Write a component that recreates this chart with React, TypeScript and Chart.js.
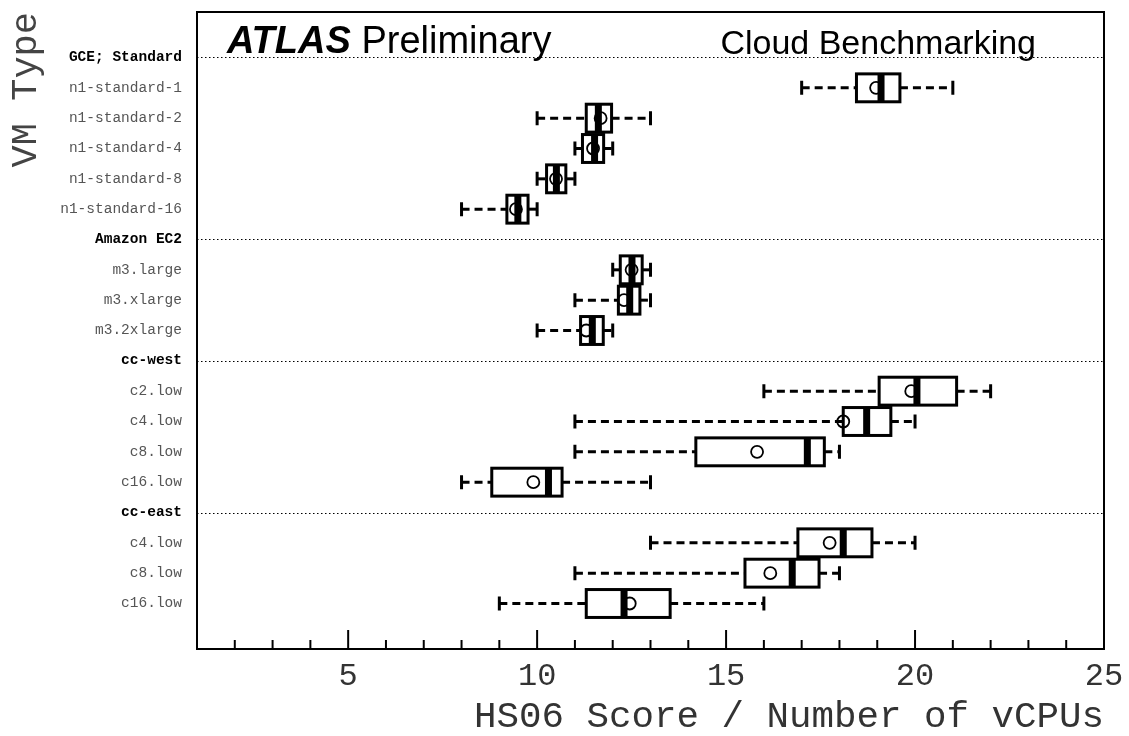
import React, { useEffect, useRef } from 'react';
import { Chart, registerables } from 'chart.js';

Chart.register(...registerables);

// ---------------- data ----------------
const rowLabels = [
  'GCE; Standard', 'n1-standard-1', 'n1-standard-2', 'n1-standard-4', 'n1-standard-8', 'n1-standard-16',
  'Amazon EC2', 'm3.large', 'm3.xlarge', 'm3.2xlarge',
  'cc-west', 'c2.low', 'c4.low', 'c8.low', 'c16.low',
  'cc-east', 'c4.low', 'c8.low', 'c16.low',
];
const isHeader = [
  true, false, false, false, false, false,
  true, false, false, false,
  true, false, false, false, false,
  true, false, false, false,
];
const whiskerLow: (number | null)[] = [null, 17, 10, 11, 10, 8, null, 12, 11, 10, null, 16, 11, 11, 8, null, 13, 11, 9];
const q1: (number | null)[] = [null, 18.45, 11.3, 11.2, 10.25, 9.2, null, 12.2, 12.15, 11.15, null, 19.05, 18.1, 14.2, 8.8, null, 16.9, 15.5, 11.3];
const median: (number | null)[] = [null, 19.1, 11.62, 11.52, 10.51, 9.49, null, 12.51, 12.45, 11.46, null, 20.05, 18.72, 17.15, 10.3, null, 18.1, 16.75, 12.3];
const q3: (number | null)[] = [null, 19.6, 11.97, 11.76, 10.76, 9.76, null, 12.78, 12.72, 11.75, null, 21.1, 19.36, 17.6, 10.66, null, 18.86, 17.46, 13.52];
const whiskerHigh: (number | null)[] = [null, 21, 13, 12, 11, 10, null, 13, 13, 12, null, 22, 20, 18, 13, null, 20, 18, 16];
const mean: (number | null)[] = [null, 18.97, 11.68, 11.48, 10.5, 9.44, null, 12.5, 12.3, 11.3, null, 19.9, 18.1, 15.82, 9.9, null, 17.74, 16.17, 12.45];

const xMin = 1;
const xMax = 25;
const xLabelStep = 5;
const xTitle = 'HS06 Score / Number of vCPUs';
const yTitle = 'VM Type';
const atlasLabel = 'ATLAS';
const prelimLabel = 'Preliminary';
const rightLabel = 'Cloud Benchmarking';

// row i is placed at y = -i (top to bottom)
const rowY = (i: number) => -i;

// ---------------- styles ----------------
const MONO = '"Liberation Mono", "DejaVu Sans Mono", monospace';
const SANS = '"Liberation Sans", Arial, Helvetica, sans-serif';

const boxPlotPlugin = {
  id: 'boxPlotPlugin',
  beforeDatasetsDraw(chart: any) {
    const { ctx, chartArea, scales } = chart;
    const x = scales.x;
    const y = scales.y;
    const rowPx = Math.abs(y.getPixelForValue(1) - y.getPixelForValue(0));
    const bh = rowPx * 0.92;
    const half = bh / 2;
    const capH = rowPx * 0.46;
    ctx.save();
    // dotted separators at group header rows
    ctx.strokeStyle = '#000';
    ctx.lineWidth = 1;
    ctx.setLineDash([1.5, 2.5]);
    rowLabels.forEach((_, i) => {
      if (!isHeader[i]) return;
      const py = Math.round(y.getPixelForValue(rowY(i))) + 0.5;
      ctx.beginPath();
      ctx.moveTo(chartArea.left, py);
      ctx.lineTo(chartArea.right, py);
      ctx.stroke();
    });
    rowLabels.forEach((_, i) => {
      if (q1[i] == null) return;
      const py = y.getPixelForValue(rowY(i));
      const xl = x.getPixelForValue(whiskerLow[i]);
      const xa = x.getPixelForValue(q1[i]);
      const xb = x.getPixelForValue(q3[i]);
      const xh = x.getPixelForValue(whiskerHigh[i]);
      // whiskers
      ctx.strokeStyle = '#000';
      ctx.lineWidth = 3;
      ctx.setLineDash([8, 5]);
      ctx.beginPath();
      ctx.moveTo(xl, py);
      ctx.lineTo(xa, py);
      ctx.stroke();
      ctx.beginPath();
      ctx.moveTo(xb, py);
      ctx.lineTo(xh, py);
      ctx.stroke();
      ctx.setLineDash([]);
      ctx.beginPath();
      ctx.moveTo(xl, py - capH / 2);
      ctx.lineTo(xl, py + capH / 2);
      ctx.moveTo(xh, py - capH / 2);
      ctx.lineTo(xh, py + capH / 2);
      ctx.stroke();
      // box
      ctx.fillStyle = '#fff';
      ctx.fillRect(xa, py - half, xb - xa, bh);
      ctx.lineWidth = 3;
      ctx.strokeRect(xa, py - half, xb - xa, bh);
    });
    ctx.restore();
  },
  afterDatasetsDraw(chart: any) {
    const { ctx, scales } = chart;
    const x = scales.x;
    const y = scales.y;
    const rowPx = Math.abs(y.getPixelForValue(1) - y.getPixelForValue(0));
    const bh = rowPx * 0.92;
    const half = bh / 2;
    ctx.save();
    ctx.fillStyle = '#000';
    rowLabels.forEach((_, i) => {
      if (median[i] == null) return;
      const py = y.getPixelForValue(rowY(i));
      const xm = x.getPixelForValue(median[i]);
      ctx.fillRect(xm - 3.5, py - half, 7, bh);
    });
    ctx.restore();
  },
  afterDraw(chart: any) {
    const { ctx, chartArea, scales } = chart;
    const x = scales.x;
    const { left, right, top, bottom } = chartArea;
    ctx.save();
    // frame
    ctx.strokeStyle = '#000';
    ctx.lineWidth = 2;
    ctx.setLineDash([]);
    ctx.strokeRect(left, top, right - left, bottom - top);
    // inward x ticks
    x.ticks.forEach((t: any) => {
      const px = x.getPixelForValue(t.value);
      if (px <= left + 1 || px >= right - 1) return;
      const len = t.value % xLabelStep === 0 ? 19 : 9;
      ctx.beginPath();
      ctx.moveTo(px, bottom);
      ctx.lineTo(px, bottom - len);
      ctx.stroke();
    });
    // header texts
    ctx.fillStyle = '#000';
    ctx.textBaseline = 'alphabetic';
    ctx.textAlign = 'left';
    ctx.font = `italic bold 38px ${SANS}`;
    const ax = left + 30;
    const base = top + 41;
    ctx.fillText(atlasLabel, ax, base);
    const aw = ctx.measureText(atlasLabel + ' ').width;
    ctx.font = `38px ${SANS}`;
    ctx.fillText(prelimLabel, ax + aw, base);
    ctx.textAlign = 'right';
    ctx.font = `34px ${SANS}`;
    ctx.fillText(rightLabel, right - 68, base + 1);
    ctx.restore();
  },
};

export default function App() {
  const canvasRef = useRef<HTMLCanvasElement | null>(null);

  useEffect(() => {
    const canvas = canvasRef.current;
    if (!canvas) return;
    const points = rowLabels
      .map((_, i) => (mean[i] == null ? null : { x: mean[i] as number, y: rowY(i) }))
      .filter((p) => p !== null) as { x: number; y: number }[];

    const chart = new Chart(canvas, {
      type: 'scatter',
      data: {
        datasets: [
          {
            label: 'mean',
            data: points,
            pointStyle: 'circle',
            pointRadius: 6,
            pointBorderWidth: 1.8,
            borderColor: '#000',
            backgroundColor: 'rgba(0,0,0,0)',
            showLine: false,
          },
        ],
      },
      options: {
        responsive: false,
        animation: false,
        layout: { padding: { top: 12, right: 25, left: 0, bottom: 0 } },
        plugins: {
          legend: { display: false },
          tooltip: { enabled: false },
          title: { display: false },
        },
        scales: {
          x: {
            type: 'linear',
            position: 'bottom',
            min: xMin,
            max: xMax,
            grid: { display: false, drawTicks: false },
            border: { display: false },
            afterFit: (s: any) => {
              s.height = 87;
              s.paddingLeft = 0;
              s.paddingRight = 0;
            },
            ticks: {
              stepSize: 1,
              autoSkip: false,
              maxRotation: 0,
              padding: 12,
              color: '#333',
              font: { family: MONO, size: 32, lineHeight: 1 },
              callback: (v: any) => (Number(v) % xLabelStep === 0 ? String(v) : ''),
            },
            title: {
              display: true,
              text: xTitle,
              align: 'end',
              color: '#333',
              font: { family: MONO, size: 37.5, lineHeight: 1 },
              padding: { top: 0, bottom: 0 },
            },
          },
          y: {
            type: 'linear',
            position: 'left',
            min: rowY(rowLabels.length - 1) - 1.5,
            max: rowY(0) + 1.5,
            grid: { display: false, drawTicks: false },
            border: { display: false },
            afterFit: (s: any) => {
              s.width = 197;
              s.paddingTop = 0;
              s.paddingBottom = 0;
            },
            afterBuildTicks: (s: any) => {
              s.ticks = rowLabels.map((_, i) => ({ value: rowY(i) }));
            },
            ticks: {
              autoSkip: false,
              padding: 15,
              callback: (v: any) => rowLabels[-Number(v)] ?? '',
              color: (c: any) => (isHeader[-(c.tick?.value ?? 1)] ? '#000' : '#555'),
              font: (c: any) =>
                isHeader[-(c.tick?.value ?? 1)]
                  ? { family: MONO, size: 14.5, weight: 'bold' }
                  : { family: MONO, size: 14.5 },
            },
            title: {
              display: true,
              text: yTitle,
              align: 'end',
              color: '#444',
              font: { family: MONO, size: 37, lineHeight: 1 },
              padding: { top: 8, bottom: 0 },
            },
          },
        },
      },
      plugins: [boxPlotPlugin],
    } as any);

    return () => chart.destroy();
  }, []);

  return (
    <div style={{ position: 'fixed', left: 0, top: 0, width: 1129, height: 736, background: '#fff' }}>
      <canvas ref={canvasRef} width={1129} height={736} style={{ display: 'block' }} />
    </div>
  );
}
